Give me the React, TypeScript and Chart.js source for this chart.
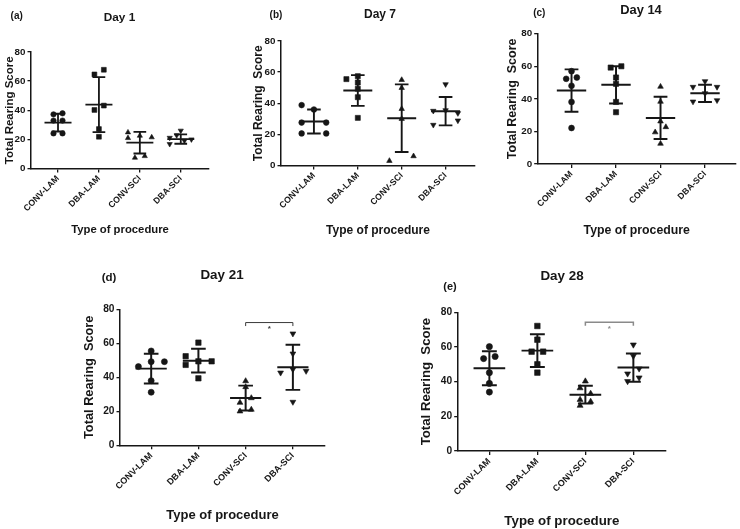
import React, { useEffect, useRef } from "react";
import { Chart, registerables } from "chart.js";

Chart.register(...registerables);

// ---------- text ----------
const categories = ["CONV-LAM", "DBA-LAM", "CONV-SCI", "DBA-SCI"];
const yTicks = [0, 20, 40, 60, 80];
const yTitleShort = "Total Rearing Score";
const yTitleWide = "Total Rearing  Score";
const xTitleText = "Type of procedure";
const panelLetters = ["(a)", "(b)", "(c)", "(d)", "(e)"];
const panelTitles = ["Day 1", "Day 7", "Day 14", "Day 21", "Day 28"];

// ---------- Day 1 ----------
const day1ConvLam = [37.2, 37.9, 32.9, 32.9, 24.1, 24.1];
const day1DbaLam = [64.6, 67.8, 40.2, 43.2, 27.1, 21.8];
const day1ConvSci = [24.8, 20.9, 22.5, 21.4, 7.4, 8.5];
const day1DbaSci = [21.1, 16.8, 22.8, 26.0, 19.1, 20.0];
const day1ConvLamJit = [-0.11, 0.11, -0.11, 0.11, -0.11, 0.11];
const day1DbaLamJit = [-0.11, 0.12, -0.11, 0.12, 0, 0];
const day1ConvSciJit = [-0.29, -0.29, 0, 0.29, -0.12, 0.12];
const day1DbaSciJit = [-0.27, -0.27, -0.1, 0, 0.09, 0.26];
const day1Mean = [31.5, 43.9, 17.7, 20.2];
const day1Sd = [6.1, 18.9, 7.4, 3.2];

// ---------- Day 7 ----------
const day7ConvLam = [38.8, 36.0, 27.6, 27.6, 20.6, 20.6];
const day7DbaLam = [55.5, 57.4, 53.3, 49.3, 43.9, 30.6];
const day7ConvSci = [55.0, 49.9, 36.4, 30.0, 3.0, 6.0];
const day7DbaSci = [52.2, 35.1, 35.5, 33.6, 26.1, 28.9];
const day7ConvLamJit = [-0.28, 0, -0.28, 0.28, -0.28, 0.28];
const day7DbaLamJit = [-0.26, 0, 0, 0, 0, 0];
const day7ConvSciJit = [0, 0, 0, 0, -0.28, 0.27];
const day7DbaSciJit = [0, -0.28, 0, 0.28, -0.28, 0.28];
const day7Mean = [28.3, 48.2, 30.4, 34.9];
const day7Sd = [7.7, 9.9, 21.7, 9.1];

// ---------- Day 14 ----------
const day14ConvLam = [57.0, 52.3, 53.1, 48.0, 38.1, 22.1];
const day14DbaLam = [59.2, 60.0, 53.1, 49.2, 38.1, 31.8];
const day14ConvSci = [47.5, 38.3, 26.2, 22.7, 19.5, 12.5];
const day14DbaSci = [50.8, 47.3, 47.3, 43.4, 38.3, 39.1];
const day14ConvLamJit = [0, -0.12, 0.12, 0, 0, 0];
const day14DbaLamJit = [-0.12, 0.12, 0, 0, 0, 0];
const day14ConvSciJit = [0, 0, 0, 0.12, -0.12, 0];
const day14DbaSciJit = [0, -0.27, 0.27, 0, -0.27, 0.27];
const day14Mean = [45.1, 48.6, 28.3, 43.4];
const day14Sd = [13.0, 11.4, 13.0, 5.3];

// ---------- Day 21 ----------
const day21ConvLam = [55.5, 46.3, 49.2, 49.2, 38.0, 31.2];
const day21DbaLam = [60.4, 52.4, 47.3, 49.4, 49.4, 39.4];
const day21ConvSci = [37.8, 34.3, 25.1, 27.8, 20.0, 21.0];
const day21DbaSci = [65.7, 53.9, 42.7, 44.7, 43.7, 25.5];
const day21ConvLamJit = [0, -0.27, 0, 0.28, 0, 0];
const day21DbaLamJit = [0, -0.27, -0.27, 0, 0.28, 0];
const day21ConvSciJit = [0, 0, -0.12, 0.12, -0.12, 0.12];
const day21DbaSciJit = [0, 0, -0.26, 0, 0.28, 0];
const day21Mean = [45.1, 49.8, 27.8, 45.9];
const day21Sd = [8.8, 7.0, 7.3, 13.3];
const day21SigGroups = [3, 4];
const day21SigLevel = 72.2;

// ---------- Day 28 ----------
const day28ConvLam = [60.2, 53.3, 54.5, 45.2, 39.0, 34.0];
const day28DbaLam = [72.1, 64.2, 57.3, 57.3, 50.0, 45.2];
const day28ConvSci = [40.2, 36.3, 33.1, 29.6, 28.5, 26.2];
const day28DbaSci = [61.3, 54.8, 44.6, 47.5, 40.2, 42.3];
const day28ConvLamJit = [0, -0.12, 0.12, 0, 0, 0];
const day28DbaLamJit = [0, 0, -0.12, 0.12, 0, 0];
const day28ConvSciJit = [0, -0.11, 0.11, -0.11, 0.11, -0.11];
const day28DbaSciJit = [0, 0, -0.12, 0.12, -0.12, 0.12];
const day28Mean = [47.7, 57.9, 32.5, 48.1];
const day28Sd = [9.8, 9.5, 5.1, 8.1];
const day28SigGroups = [3, 4];
const day28SigLevel = 74.2;

const sigLabel = "*";

// ---------- styling / layout ----------
const FONT = "'Liberation Sans', Arial, Helvetica, sans-serif";
const INK = "#161616";

type Layout = {
  cx: number; cy: number; cw: number; ch: number;
  pl: number; pt: number; pr: number; pb: number;
  xMin: number; xMax: number;
  yTitleX: number; xTitleY: number;
  letterX: number; letterY: number; letterSize: number;
  titleX: number; titleY: number; titleSize: number;
  yTitleSize: number; xTitleSize: number;
  yTickSize: number; xTickSize: number; marker: number;
  sigColor?: string; sigWidth?: number;
};

type Panel = {
  values: number[][];
  jitter: number[][];
  mean: number[];
  sd: number[];
  letter: string;
  title: string;
  yTitle: string;
  sigGroups?: number[];
  sigLevel?: number;
  layout: Layout;
};

const panels: Panel[] = [
  {
    values: [day1ConvLam, day1DbaLam, day1ConvSci, day1DbaSci],
    jitter: [day1ConvLamJit, day1DbaLamJit, day1ConvSciJit, day1DbaSciJit],
    mean: day1Mean, sd: day1Sd, letter: panelLetters[0], title: panelTitles[0], yTitle: yTitleShort,
    layout: {
      cx: 0, cy: 0, cw: 240, ch: 240, pl: 31, pt: 52, pr: 209, pb: 168.5, xMin: 0.34, xMax: 4.69,
      yTitleX: 9.5, xTitleY: 230, letterX: 16.7, letterY: 16.7, letterSize: 10,
      titleX: 119.5, titleY: 18, titleSize: 11.8, yTitleSize: 11.5, xTitleSize: 11.3,
      yTickSize: 9.8, xTickSize: 8.7, marker: 1,
    },
  },
  {
    values: [day7ConvLam, day7DbaLam, day7ConvSci, day7DbaSci],
    jitter: [day7ConvLamJit, day7DbaLamJit, day7ConvSciJit, day7DbaSciJit],
    mean: day7Mean, sd: day7Sd, letter: panelLetters[1], title: panelTitles[1], yTitle: yTitleWide,
    layout: {
      cx: 240, cy: 0, cw: 240, ch: 240, pl: 281, pt: 41, pr: 475, pb: 165.5, xMin: 0.25, xMax: 4.67,
      yTitleX: 258.3, xTitleY: 231, letterX: 276, letterY: 15, letterSize: 10,
      titleX: 380, titleY: 15, titleSize: 12, yTitleSize: 12, xTitleSize: 12,
      yTickSize: 9.8, xTickSize: 8.7, marker: 1.05,
    },
  },
  {
    values: [day14ConvLam, day14DbaLam, day14ConvSci, day14DbaSci],
    jitter: [day14ConvLamJit, day14DbaLamJit, day14ConvSciJit, day14DbaSciJit],
    mean: day14Mean, sd: day14Sd, letter: panelLetters[2], title: panelTitles[2], yTitle: yTitleWide,
    layout: {
      cx: 480, cy: 0, cw: 260, ch: 240, pl: 537.7, pt: 33.7, pr: 740, pb: 164, xMin: 0.24, xMax: 4.69,
      yTitleX: 512.3, xTitleY: 231, letterX: 539.3, letterY: 13, letterSize: 10,
      titleX: 641, titleY: 10.5, titleSize: 12.9, yTitleSize: 12.5, xTitleSize: 12.3,
      yTickSize: 9.8, xTickSize: 8.7, marker: 1.08,
    },
  },
  {
    values: [day21ConvLam, day21DbaLam, day21ConvSci, day21DbaSci],
    jitter: [day21ConvLamJit, day21DbaLamJit, day21ConvSciJit, day21DbaSciJit],
    mean: day21Mean, sd: day21Sd, letter: panelLetters[3], title: panelTitles[3], yTitle: yTitleWide,
    sigGroups: day21SigGroups, sigLevel: day21SigLevel,
    layout: {
      cx: 0, cy: 240, cw: 370, ch: 289, pl: 120, pt: 309.3, pr: 325, pb: 445.3, xMin: 0.34, xMax: 4.68,
      yTitleX: 89, xTitleY: 515, letterX: 109, letterY: 278, letterSize: 11.5,
      titleX: 222, titleY: 275, titleSize: 13.4, yTitleSize: 12.8, xTitleSize: 13,
      yTickSize: 10.2, xTickSize: 9, marker: 1.12, sigColor: "#3a3a3a", sigWidth: 1,
    },
  },
  {
    values: [day28ConvLam, day28DbaLam, day28ConvSci, day28DbaSci],
    jitter: [day28ConvLamJit, day28DbaLamJit, day28ConvSciJit, day28DbaSciJit],
    mean: day28Mean, sd: day28Sd, letter: panelLetters[4], title: panelTitles[4], yTitle: yTitleWide,
    sigGroups: day28SigGroups, sigLevel: day28SigLevel,
    layout: {
      cx: 370, cy: 240, cw: 370, ch: 289, pl: 457.7, pt: 312.3, pr: 666, pb: 451, xMin: 0.34, xMax: 4.68,
      yTitleX: 426.7, xTitleY: 521.7, letterX: 450, letterY: 287, letterSize: 11,
      titleX: 562, titleY: 276, titleSize: 13.4, yTitleSize: 13.2, xTitleSize: 13.3,
      yTickSize: 10.2, xTickSize: 9, marker: 1.15, sigColor: "#8a8a8a", sigWidth: 1.5,
    },
  },
];

const pointStyles = ["circle", "rect", "triangle", "triangle"];
const pointRotations = [0, 0, 0, 180];
const baseRadii = [2.7, 3.4, 3.0, 3.0];

function buildChart(canvas: HTMLCanvasElement, p: Panel): Chart {
  const L = p.layout;
  const yAxisW = L.pl - L.cx;
  const xAxisH = L.cy + L.ch - L.pb;
  const yTitleLH = L.yTitleSize * 1.2;
  const xTitleLH = L.xTitleSize * 1.2;
  const yTitlePad = L.yTitleX - L.cx - yTitleLH / 2;
  const xTitlePad = L.cy + L.ch - L.xTitleY - xTitleLH / 2;

  const datasets = p.values.map((vals, gi) => ({
    label: categories[gi],
    data: vals.map((v, i) => ({ x: gi + 1 + p.jitter[gi][i], y: v })),
    pointStyle: pointStyles[gi],
    pointRotation: pointRotations[gi],
    pointRadius: baseRadii[gi] * L.marker,
    pointHoverRadius: baseRadii[gi] * L.marker,
    pointBackgroundColor: INK,
    pointBorderColor: INK,
    pointBorderWidth: 0.6,
    showLine: false,
    clip: false as any,
  }));

  const errorBars = {
    id: "meanSd",
    beforeDatasetsDraw(chart: any) {
      const { ctx } = chart;
      const xs = chart.scales.x;
      const ys = chart.scales.y;
      ctx.save();
      ctx.strokeStyle = INK;
      ctx.lineWidth = 1.8 * Math.min(L.marker, 1.1);
      p.mean.forEach((m: number, i: number) => {
        const c = i + 1;
        const px = xs.getPixelForValue(c);
        const mL = xs.getPixelForValue(c - 0.33);
        const mR = xs.getPixelForValue(c + 0.33);
        const cL = xs.getPixelForValue(c - 0.155);
        const cR = xs.getPixelForValue(c + 0.155);
        const pm = ys.getPixelForValue(m);
        const ph = ys.getPixelForValue(m + p.sd[i]);
        const pl = ys.getPixelForValue(Math.max(0, m - p.sd[i]));
        ctx.beginPath();
        ctx.moveTo(mL, pm); ctx.lineTo(mR, pm);
        ctx.moveTo(px, ph); ctx.lineTo(px, pl);
        ctx.moveTo(cL, ph); ctx.lineTo(cR, ph);
        ctx.moveTo(cL, pl); ctx.lineTo(cR, pl);
        ctx.stroke();
      });
      ctx.restore();
    },
  };

  const annotations = {
    id: "panelText",
    afterDraw(chart: any) {
      const { ctx } = chart;
      ctx.save();
      ctx.fillStyle = INK;
      ctx.textAlign = "center";
      ctx.textBaseline = "middle";
      ctx.font = `bold ${L.letterSize}px ${FONT}`;
      ctx.fillText(p.letter, L.letterX - L.cx, L.letterY - L.cy);
      ctx.font = `bold ${L.titleSize}px ${FONT}`;
      ctx.fillText(p.title, L.titleX - L.cx, L.titleY - L.cy);
      if (p.sigGroups && p.sigLevel !== undefined) {
        const xs = chart.scales.x;
        const ys = chart.scales.y;
        const x1 = xs.getPixelForValue(p.sigGroups[0]);
        const x2 = xs.getPixelForValue(p.sigGroups[1]);
        const yy = ys.getPixelForValue(p.sigLevel);
        ctx.strokeStyle = L.sigColor || INK;
        ctx.lineWidth = L.sigWidth || 1;
        ctx.beginPath();
        ctx.moveTo(x1, yy + 3.5); ctx.lineTo(x1, yy);
        ctx.lineTo(x2, yy); ctx.lineTo(x2, yy + 3.5);
        ctx.stroke();
        ctx.fillStyle = L.sigColor || INK;
        ctx.font = `bold 8px ${FONT}`;
        ctx.fillText(sigLabel, (x1 + x2) / 2, yy + 6);
      }
      ctx.restore();
    },
  };

  return new Chart(canvas, {
    type: "scatter",
    data: { datasets: datasets as any },
    plugins: [errorBars, annotations],
    options: {
      responsive: false,
      animation: false,
      events: [],
      layout: {
        padding: { left: 0, top: L.pt - L.cy, right: L.cx + L.cw - L.pr, bottom: 0 },
      },
      plugins: { legend: { display: false }, tooltip: { enabled: false }, title: { display: false } },
      scales: {
        x: {
          type: "linear",
          min: L.xMin,
          max: L.xMax,
          afterBuildTicks: (s: any) => {
            s.ticks = categories.map((_, i) => ({ value: i + 1 }));
          },
          afterFit: (s: any) => {
            s.height = xAxisH;
          },
          ticks: {
            autoSkip: false,
            minRotation: 45,
            maxRotation: 45,
            padding: 1,
            color: INK,
            font: { family: FONT, size: L.xTickSize, weight: "bold" },
            callback: (v: any) => categories[Math.round(Number(v)) - 1] ?? "",
          },
          grid: { display: true, drawOnChartArea: false, drawTicks: true, tickLength: 4, color: INK, lineWidth: 1.3 },
          border: { display: true, color: INK, width: 1.5 },
          title: {
            display: true,
            text: xTitleText,
            color: INK,
            font: { family: FONT, size: L.xTitleSize, weight: "bold" },
            padding: { top: 0, bottom: xTitlePad },
          },
        },
        y: {
          type: "linear",
          min: 0,
          max: 80,
          afterBuildTicks: (s: any) => {
            s.ticks = yTicks.map((v) => ({ value: v }));
          },
          afterFit: (s: any) => {
            s.width = yAxisW;
          },
          ticks: {
            padding: 2,
            color: INK,
            font: { family: FONT, size: L.yTickSize, weight: "bold" },
          },
          grid: { display: true, drawOnChartArea: false, drawTicks: true, tickLength: 3.5, color: INK, lineWidth: 1.3 },
          border: { display: true, color: INK, width: 1.5 },
          title: {
            display: true,
            text: p.yTitle,
            color: INK,
            font: { family: FONT, size: L.yTitleSize, weight: "bold" },
            padding: { top: yTitlePad, bottom: 0 },
          },
        },
      },
    } as any,
  });
}

function PanelChart({ panel }: { panel: Panel }) {
  const ref = useRef<HTMLCanvasElement | null>(null);
  useEffect(() => {
    if (!ref.current) return;
    const chart = buildChart(ref.current, panel);
    return () => chart.destroy();
  }, [panel]);
  const L = panel.layout;
  return (
    <canvas
      ref={ref}
      width={L.cw}
      height={L.ch}
      style={{ position: "absolute", left: L.cx, top: L.cy, width: L.cw, height: L.ch, display: "block" }}
    />
  );
}

export default function App() {
  return (
    <div
      style={{
        position: "absolute",
        left: 0,
        top: 0,
        width: 740,
        height: 529,
        background: "#ffffff",
        overflow: "hidden",
      }}
    >
      {panels.map((p, i) => (
        <PanelChart key={i} panel={p} />
      ))}
    </div>
  );
}
